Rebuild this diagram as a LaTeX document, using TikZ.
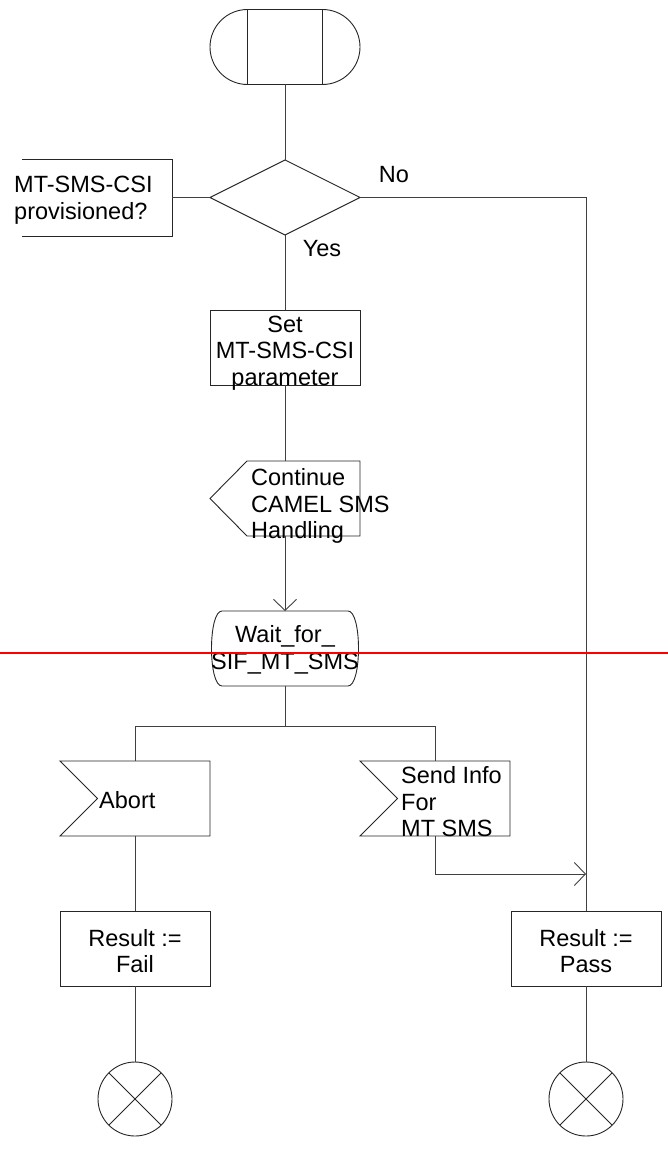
\documentclass[tikz,border=0pt]{standalone}
\usepackage{fontspec}
\setmainfont{Liberation Sans}
\usetikzlibrary{arrows.meta}
\begin{document}
\begin{tikzpicture}[x=1pt,y=-1pt,
  shp/.style={draw=none, inner sep=0pt, outer sep=0pt, minimum width=150pt, minimum height=75pt},
  ln/.style={draw=black!85, line width=0.9pt},
  conn/.style={draw=black!75, line width=0.9pt},
  txt/.style={inner sep=0pt, font=\fontsize{23.5}{26.5}\selectfont},
  arr/.style={conn, -{Straight Barb[length=11pt,width=23pt,line width=0.9pt]}},
  term/.style={circle, draw=black!85, line width=0.9pt, minimum size=74pt, inner sep=0pt, outer sep=0pt}
]
\useasboundingbox[fill=white] (0,0) rectangle (668,1150);

% shape frames
\node[shp, minimum width=75pt] (start) at (285,47) {};
\node[shp] (dec) at (285,197.5) {};
\node[shp, minimum height=77pt] (cmt) at (97,197.5) {};
\node[shp] (set) at (285,347.5) {};
\node[shp] (cont) at (285,498.5) {};
\node[shp] (wait) at (285,648.5) {};
\node[shp] (abort) at (135,798.5) {};
\node[shp] (send) at (435,798.5) {};
\node[shp] (fail) at (135,948.5) {};
\node[shp] (pass) at (586,948.5) {};
\node[term] (end1) at (135,1099) {};
\node[term] (end2) at (586,1099) {};

% outlines
\draw[ln] (start.north west) rectangle (start.south east);
\draw[ln] (start.north west) arc[start angle=90, end angle=270, radius=37.5pt];
\draw[ln] (start.north east) arc[start angle=90, end angle=-90, radius=37.5pt];
\draw[ln] (dec.north) -- (dec.east) -- (dec.south) -- (dec.west) -- cycle;
\draw[ln] (cmt.north west) -- (cmt.north east) -- (cmt.south east) -- (cmt.south west);
\draw[ln] (set.north west) rectangle (set.south east);
\draw[ln] ([xshift=37pt]cont.north west) -- (cont.north east) -- (cont.south east) -- ([xshift=37pt]cont.south west) -- (cont.west) -- cycle;
\draw[ln] ([xshift=12pt]wait.north west) -- ([xshift=-12pt]wait.north east)
  .. controls ([xshift=2pt]wait.north east) and ([xshift=2pt]wait.south east) .. ([xshift=-12pt]wait.south east)
  -- ([xshift=12pt]wait.south west)
  .. controls ([xshift=-2pt]wait.south west) and ([xshift=-2pt]wait.north west) .. cycle;
\draw[ln] (abort.north west) -- (abort.north east) -- (abort.south east) -- (abort.south west) -- ([xshift=37.5pt]abort.west) -- cycle;
\draw[ln] (send.north west) -- (send.north east) -- (send.south east) -- (send.south west) -- ([xshift=37.5pt]send.west) -- cycle;
\draw[ln] (fail.north west) rectangle (fail.south east);
\draw[ln] (pass.north west) rectangle (pass.south east);
\draw[ln] (end1.north west) -- (end1.south east) (end1.north east) -- (end1.south west);
\draw[ln] (end2.north west) -- (end2.south east) (end2.north east) -- (end2.south west);

% texts
\node[txt, align=left, anchor=west] (cmtT) at (14,200) {MT-SMS-CSI\\provisioned?};
\node[txt, align=center] (setT) at (285,353) {Set\\MT-SMS-CSI\\parameter};
\node[txt, align=left, anchor=west] (contT) at (251,506) {Continue\\CAMEL SMS\\Handling};
\node[txt, align=center] (waitT) at (285,650) {Wait\_for\_\\SIF\_MT\_SMS};
\node[txt, anchor=west] (abortT) at (99,800) {Abort};
\node[txt, align=left, anchor=west] (sendT) at (401,802) {Send Info\\For\\MT SMS};
\node[txt, align=center] (failT) at (135,951) {Result :=\\Fail};
\node[txt, align=center] (passT) at (586,951) {Result :=\\Pass};
\node[txt] (noL) at (394,175) {No};
\node[txt] (yesL) at (322,249) {Yes};

% connectors
\coordinate (br) at (285,726);
\coordinate (j) at (586,874);
\draw[conn] (start.south) -- (dec.north);
\draw[conn] (cmt.east) -- (dec.west);
\draw[conn] (dec.south) -- (set.north);
\draw[conn] (dec.east) -| (pass.north);
\draw[conn] (set.south) -- (cont.north);
\draw[arr] (cont.south) -- (wait.north);
\draw[conn] (wait.south) -- (br);
\draw[conn] (br) -| (abort.north);
\draw[conn] (br) -| (send.north);
\draw[arr] (send.south) |- (j);
\draw[conn] (abort.south) -- (fail.north);
\draw[conn] (fail.south) -- (end1.north);
\draw[conn] (pass.south) -- (end2.north);

% red rule
\draw[red, line width=2.2pt] (0,653) -- (668,653);
\end{tikzpicture}
\end{document}
